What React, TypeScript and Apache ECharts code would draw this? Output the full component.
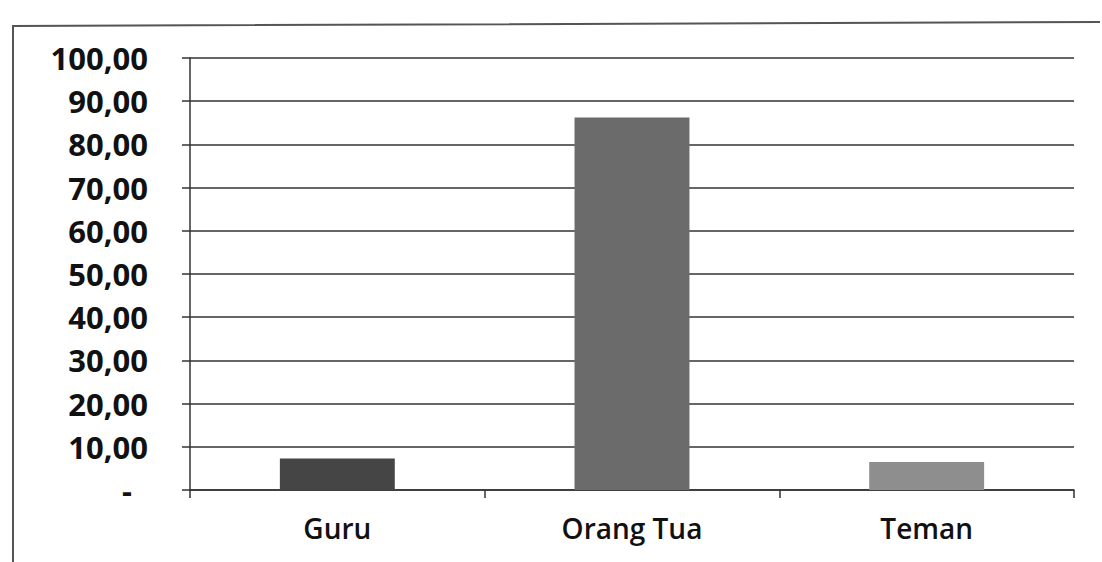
import React, { useEffect, useRef } from "react";
import * as echarts from "echarts";

const categories = ["Guru", "Orang Tua", "Teman"];
const values = [7.3, 86.2, 6.5];
const barColors = ["#454545", "#6b6b6b", "#8e8e8e"];
const yTicks = [0, 10, 20, 30, 40, 50, 60, 70, 80, 90, 100];

export default function App() {
  const ref = useRef<HTMLDivElement>(null);
  useEffect(() => {
    if (!ref.current) return;
    const chart = echarts.init(ref.current, null, { renderer: "svg" });
    chart.setOption({
      animation: false,
      backgroundColor: "#ffffff",
      graphic: [
        {
          type: "polyline",
          shape: { points: [[13, 562], [13, 26], [1100, 22]] },
          style: { stroke: "#555", lineWidth: 2, fill: "none" },
          silent: true,
        },
      ],
      grid: { left: 190, right: 28, top: 58, bottom: 72, containLabel: false },
      xAxis: {
        type: "category",
        data: categories,
        axisLine: { show: true, lineStyle: { color: "#333", width: 1.5 } },
        axisTick: { show: true, length: 8, inside: false, alignWithLabel: false, lineStyle: { color: "#333", width: 1.5 } },
        axisLabel: {
          margin: 24,
          color: "#111",
          fontFamily: "Open Sans",
          fontWeight: 600,
          fontSize: 28,
        },
      },
      yAxis: {
        type: "value",
        min: yTicks[0],
        max: yTicks[yTicks.length - 1],
        interval: 10,
        axisLine: { show: true, lineStyle: { color: "#333", width: 1.5 } },
        axisTick: { show: true, length: 8, lineStyle: { color: "#333", width: 1.5 } },
        splitLine: { show: true, lineStyle: { color: "#333", width: 1.5 } },
        axisLabel: {
          margin: 42,
          color: "#111",
          fontFamily: "Open Sans",
          fontWeight: "bold",
          fontSize: 31,
          formatter: (v: number) => (v === 0 ? "{d|-}" : v.toFixed(2).replace(".", ",")),
          rich: {
            d: { fontFamily: "Open Sans", fontWeight: "bold", fontSize: 31, color: "#111", padding: [0, 16, 0, 0] },
          },
        },
      },
      series: [
        {
          type: "bar",
          data: values.map((v, i) => ({ value: v, itemStyle: { color: barColors[i] } })),
          barWidth: "39%",
        },
      ],
    });
    return () => chart.dispose();
  }, []);
  return <div ref={ref} style={{ position: "fixed", left: 0, top: 0, width: 1102, height: 562 }} />;
}
